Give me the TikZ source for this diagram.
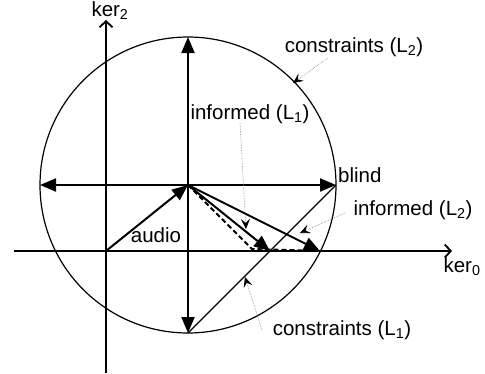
\documentclass[tikz,border=0pt]{standalone}
\usepackage{fontspec}
\setmainfont{Liberation Sans}
\usetikzlibrary{arrows.meta}
\begin{document}
\begin{tikzpicture}[x=1pt,y=-1pt,
  lbl/.style={font=\fontsize{20.5}{21}\selectfont, inner sep=0pt},
  axis/.style={line width=1.8pt,-{Straight Barb[length=6pt,width=13pt,line width=1.8pt]}},
  vec/.style={line width=2pt,-{Triangle[length=16pt,width=13pt]}},
  dvec/.style={line width=2pt,{Triangle[length=16pt,width=13pt]}-{Triangle[length=16pt,width=13pt]}},
  lead/.style={gray, densely dotted, line width=0.6pt, -{Stealth[length=10pt,width=9pt,inset=4pt,black]}},
  thin/.style={line width=1.2pt}]
\useasboundingbox (0,0) rectangle (485,373);
\coordinate (O) at (106,251);
\coordinate (C) at (188,185);
\coordinate (L) at (40,185);
\coordinate (R) at (336,185);
\coordinate (T) at (188,37);
\coordinate (B) at (188,333);
\coordinate (P1) at (270,251);
\coordinate (P2) at (320,251);
\coordinate (D) at (252,249);
\coordinate (xs) at (14,251);
\coordinate (xe) at (452,251);
\coordinate (ys) at (106,373);
\coordinate (ye) at (106,20);
% axes
\draw[axis] (xs) -- (xe);
\draw[axis] (ys) -- (ye);
% circle
\draw[thin] (C) circle[radius=148];
% constraint L1 line
\draw[thin] (B) -- (R);
% double arrows
\draw[dvec] (L) -- (R);
\draw[dvec] (B) -- (T);
% vectors
\draw[vec] (O) -- (C);
\draw[line width=2pt, dash pattern=on 5pt off 3pt] (C) -- (D) -- (P2);
\draw[vec] (C) -- (P1);
\draw[vec] (C) -- (P2);
% labels
\node[lbl] (k2) at (110,11) {ker\textsubscript{2}};
\node[lbl] (k0) at (462,267) {ker\textsubscript{0}};
\node[lbl] (cL2) at (354,47) {constraints (L\textsubscript{2})};
\node[lbl] (iL1) at (250,114) {informed (L\textsubscript{1})};
\node[lbl, anchor=west] (bl) at (338,175) {blind};
\node[lbl] (iL2) at (413,210) {informed (L\textsubscript{2})};
\node[lbl] (cL1) at (342,330) {constraints (L\textsubscript{1})};
\node[lbl] (au) at (156,235) {audio};
% leaders
\coordinate (a1) at (293,83);
\coordinate (a2) at (246,229);
\coordinate (a3) at (300,233);
\coordinate (a4) at (245,277);
\draw[lead] (328,58) -- (a1);
\draw[lead] (240,123) -- (a2);
\draw[lead] (345,213) -- (a3);
\draw[lead] (262,330) -- (a4);
\end{tikzpicture}
\end{document}
